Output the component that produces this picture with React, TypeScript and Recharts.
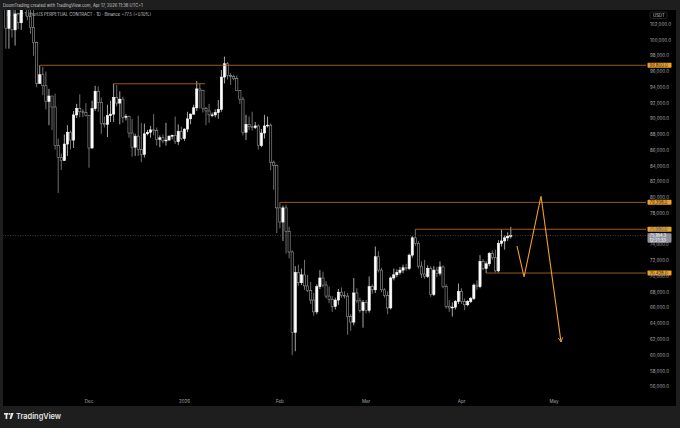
import React from 'react';
import { ComposedChart, Bar, Line, XAxis, YAxis, ReferenceLine } from 'recharts';

// daily candles, [open, high, low, close] in thousands of USDT
// Nov 4 2025 .. Nov 30 2025
const novCandles = [
  [106.5, 106.6, 98.9, 101.5], [101.5, 104.5, 98.9, 103.9], [103.9, 104.2, 100.3, 101.3],
  [101.3, 104.0, 99.3, 103.3], [103.3, 103.4, 101.4, 102.2], [102.2, 105.0, 101.3, 104.7],
  [104.7, 106.6, 104.3, 105.9], [105.9, 107.5, 102.5, 103.0], [103.0, 105.3, 100.8, 101.6],
  [101.6, 104.0, 98.0, 99.7], [99.7, 99.8, 94.0, 94.5], [94.5, 96.8, 94.5, 95.6],
  [95.6, 96.6, 93.0, 94.2], [94.2, 96.0, 91.2, 92.2], [92.2, 93.8, 89.2, 92.9],
  [92.9, 92.9, 88.6, 91.5], [91.5, 93.2, 86.1, 86.6], [86.6, 87.5, 80.6, 85.1],
  [85.1, 85.6, 83.5, 84.7], [84.7, 88.0, 84.7, 86.8], [86.8, 89.2, 85.3, 88.3],
  [88.3, 88.5, 86.1, 87.3], [87.3, 91.0, 86.3, 90.5], [90.5, 91.9, 90.1, 91.3],
  [91.3, 93.1, 90.2, 90.9], [90.9, 91.2, 90.2, 90.8], [90.8, 92.0, 90.3, 90.4],
];
const decCandles = [
  [90.4, 90.4, 83.8, 86.3], [86.3, 92.3, 86.2, 91.3], [91.3, 94.2, 91.0, 93.5],
  [93.5, 94.1, 90.9, 92.1], [92.1, 92.7, 88.1, 89.4], [89.4, 90.3, 88.9, 89.3],
  [89.3, 91.8, 87.7, 90.4], [90.4, 92.3, 89.6, 90.6], [90.6, 94.45, 89.6, 92.7],
  [92.7, 94.3, 91.6, 92.0], [92.0, 93.5, 89.3, 92.5], [92.5, 92.8, 89.5, 90.2],
  [90.2, 90.6, 89.8, 90.3], [90.3, 90.4, 87.6, 88.2], [88.2, 90.0, 85.2, 86.4],
  [86.4, 88.1, 85.3, 87.8], [87.8, 90.4, 85.3, 86.1], [86.1, 89.5, 84.5, 85.5],
  [85.5, 89.4, 85.1, 88.1], [88.1, 88.6, 87.9, 88.3], [88.3, 89.1, 87.6, 88.6],
  [88.6, 90.6, 87.9, 88.5], [88.5, 88.9, 86.6, 87.4], [87.4, 87.9, 86.4, 87.6],
  [87.6, 88.0, 86.9, 87.2], [87.2, 89.5, 86.6, 87.3], [87.3, 87.9, 87.3, 87.8],
  [87.8, 88.0, 87.4, 87.9], [87.9, 90.3, 86.8, 87.1], [87.1, 89.3, 86.7, 88.4],
  [88.4, 89.0, 87.3, 87.5],
];
const janCandles = [
  [87.5, 88.8, 87.2, 88.7], [88.7, 90.9, 88.3, 90.0], [90.0, 90.7, 89.3, 90.6],
  [90.6, 91.8, 90.5, 91.4], [91.4, 94.8, 91.0, 93.8], [93.8, 94.5, 91.3, 93.6],
  [93.6, 93.7, 90.8, 91.3], [91.3, 91.5, 89.2, 91.0], [91.0, 91.9, 89.5, 90.5],
  [90.5, 90.8, 90.2, 90.5], [90.5, 91.2, 90.2, 90.8], [90.8, 92.4, 90.0, 91.2],
  [91.2, 96.2, 90.9, 95.3], [95.3, 97.9, 94.5, 97.0], [97.0, 97.2, 95.0, 95.5],
  [95.5, 95.8, 94.3, 95.4], [95.4, 95.6, 94.9, 95.1], [95.1, 95.5, 93.6, 93.6],
  [93.6, 93.6, 91.9, 92.5], [92.5, 92.8, 87.9, 88.3], [88.3, 90.5, 87.3, 89.3],
  [89.3, 90.3, 88.6, 89.0], [89.0, 90.9, 88.5, 88.9], [88.9, 89.6, 88.7, 89.1],
  [89.1, 89.3, 86.1, 86.6], [86.6, 88.7, 86.4, 88.2], [88.2, 90.5, 87.5, 89.1],
  [89.1, 90.3, 88.9, 89.2], [89.2, 89.4, 83.5, 84.5], [84.5, 84.7, 81.0, 84.1],
  [84.1, 84.2, 75.5, 78.7],
];
const febCandles = [
  [78.7, 79.398, 76.1, 76.9], [76.9, 79.0, 74.5, 78.7], [78.7, 79.1, 72.9, 75.7],
  [75.7, 76.3, 72.3, 73.1], [73.1, 73.3, 60.0, 62.9], [62.9, 71.3, 60.5, 70.5],
  [70.5, 71.5, 68.8, 69.2], [69.2, 71.0, 68.9, 70.2], [70.2, 72.1, 68.3, 68.8],
  [68.8, 70.2, 68.0, 68.2], [68.2, 69.3, 66.5, 67.0], [67.0, 67.9, 65.0, 65.5],
  [65.5, 69.0, 65.2, 68.7], [68.7, 70.8, 68.4, 69.8], [69.8, 70.6, 68.6, 68.9],
  [68.9, 69.4, 67.2, 67.5], [67.5, 68.7, 66.6, 67.1], [67.1, 67.5, 65.5, 66.2],
  [66.2, 67.3, 65.8, 67.0], [67.0, 68.4, 66.4, 68.0], [68.0, 68.6, 67.3, 67.6],
  [67.6, 68.1, 67.2, 67.5], [67.5, 67.9, 62.6, 64.9], [64.9, 65.2, 63.1, 64.2],
  [64.2, 69.8, 63.8, 67.9], [67.9, 68.5, 66.6, 66.9], [66.9, 67.3, 65.4, 65.7],
  [65.7, 67.0, 63.5, 66.7],
];
const marCandles = [
  [66.7, 67.0, 65.3, 65.7], [65.7, 70.0, 65.4, 68.7], [68.7, 69.0, 67.8, 68.3],
  [68.3, 73.8, 67.9, 72.5], [72.5, 73.2, 70.5, 70.8], [70.8, 71.1, 68.0, 68.3],
  [68.3, 68.5, 67.3, 67.6], [67.6, 68.1, 65.2, 66.0], [66.0, 70.0, 65.8, 69.8],
  [69.8, 71.0, 69.5, 70.2], [70.2, 70.9, 69.9, 70.5], [70.5, 71.2, 70.2, 70.8],
  [70.8, 71.5, 70.4, 71.1], [71.1, 71.6, 70.7, 71.0], [71.0, 72.9, 70.8, 72.7],
  [72.7, 75.1, 72.4, 74.9], [74.9, 75.986, 73.9, 74.2], [74.2, 74.5, 71.0, 71.3],
  [71.3, 71.9, 69.8, 70.3], [70.3, 72.1, 69.7, 70.0], [70.0, 71.4, 69.8, 71.0],
  [71.0, 71.3, 67.4, 67.7], [67.7, 71.3, 67.5, 70.8], [70.8, 71.2, 69.9, 70.4],
  [70.4, 71.9, 70.1, 71.2], [71.2, 71.4, 68.5, 68.7], [68.7, 69.0, 65.9, 66.2],
  [66.2, 67.0, 65.5, 66.0], [66.0, 66.7, 64.9, 66.1], [66.1, 67.0, 65.8, 66.8],
  [66.8, 69.1, 66.5, 68.1],
];
const aprCandles = [
  [68.1, 68.5, 66.5, 66.8], [66.8, 67.2, 65.7, 66.4], [66.4, 67.0, 66.2, 66.8],
  [66.8, 67.4, 66.6, 67.2], [67.2, 69.1, 67.0, 68.9], [68.9, 69.5, 68.3, 68.7],
  [68.7, 72.7, 68.5, 71.9], [71.9, 72.2, 70.8, 71.0], [71.0, 71.9, 70.428, 71.6],
  [71.6, 73.1, 71.3, 72.9], [72.9, 73.3, 72.1, 72.4], [72.4, 73.4, 70.5, 70.7],
  [70.7, 74.6, 70.5, 74.2], [74.2, 75.95, 73.8, 74.5], [74.5, 75.2, 73.4, 74.9],
  [74.9, 75.6, 74.5, 75.107], [75.107, 76.3, 74.8, 75.1843],
];

// horizontal levels drawn on the chart
const levelPrices = [96800, 94450, 79398, 75986, 70428];
const levelStartDays = [11, 35, 89, 133, 156];
const levelEndDays = [207.9, 64.7, 207.9, 207.9, 207.9];
const levelTagged = [true, false, true, true, true];

// projected path (day index, price)
const projDays = [166.0, 168.3, 173.8, 180.3];
const projPrices = [73860, 69925, 80207, 61674];

const monthTickDays = [27, 58, 89, 117, 148, 178];
const monthTickLabels = ['Dec', '2026', 'Feb', 'Mar', 'Apr', 'May'];
const priceTicks = [56000, 58000, 60000, 62000, 64000, 66000, 68000, 70000, 72000, 74000, 76000, 78000,
  80000, 82000, 84000, 86000, 88000, 90000, 92000, 94000, 96000, 98000, 100000, 102000];

const allCandles = [...novCandles, ...decCandles, ...janCandles, ...febCandles, ...marCandles, ...aprCandles];
const data = allCandles.map(([o, h, l, c], i) => ({
  t: i, o: o * 1000, h: h * 1000, l: l * 1000, c: c * 1000, range: [l * 1000, h * 1000],
}));
const lastClose = data[data.length - 1].c;
const projection = projDays.map((t, i) => ({ t, v: projPrices[i] }));

const fmt = (n: number) => n.toLocaleString('en-US', { minimumFractionDigits: 1, maximumFractionDigits: 1 });
const FONT = 'Inter, "Noto Sans", Arial, sans-serif';
const ORANGE = '#f0a12a';

const Candle = (props: any) => {
  const { x, y, width, height } = props;
  const p = props.payload || props;
  const { o, h, l, c } = p;
  const cx = x + width / 2;
  const k = h > l ? height / (h - l) : 0;
  const py = (v: number) => y + (h - v) * k;
  const up = c >= o;
  const top = py(Math.max(o, c));
  const bot = py(Math.min(o, c));
  return (
    <g>
      <line x1={cx} x2={cx} y1={y} y2={y + height} stroke={up ? '#d0d0d0' : '#8a8a8a'} strokeWidth={0.8} />
      <rect x={cx - 1.1} y={top} width={2.2} height={Math.max(bot - top, 0.7)}
        fill={up ? '#ffffff' : '#000000'} stroke={up ? '#ffffff' : '#9a9a9a'} strokeWidth={0.6} />
    </g>
  );
};

const PriceTick = (props: any) => (
  <text x={props.x} y={props.y} dy="0.35em" fontSize={4.5} fill="#a9abb0" fontFamily={FONT}>
    {fmt(props.payload.value)}
  </text>
);

const DateTick = (props: any) => {
  const i = monthTickDays.indexOf(props.payload.value);
  return (
    <text x={props.x} y={props.y} dy="0.35em" textAnchor="middle" fontSize={4.5} fill="#a9abb0" fontFamily={FONT}>
      {monthTickLabels[i]}
    </text>
  );
};

const levelTag = (price: number) => (props: any) => {
  const vb = props.viewBox || {};
  const x = (vb.x || 0) + (vb.width || 0);
  const y = vb.y || 0;
  return (
    <g>
      <rect x={x + 1.5} y={y - 2.5} width={24} height={5} rx={0.8} fill={ORANGE} />
      <text x={x + 3.5} y={y} dy="0.35em" fontSize={4.3} fill="#1a1a1a" fontFamily={FONT}>{fmt(price)}</text>
    </g>
  );
};

const lastTag = (props: any) => {
  const vb = props.viewBox || {};
  const x = (vb.x || 0) + (vb.width || 0);
  const y = vb.y || 0;
  return (
    <g>
      <rect x={x + 1.5} y={y - 2.3} width={24} height={9.4} rx={0.8} fill="#8f929b" />
      <text x={x + 3.5} y={y} dy="0.35em" fontSize={4.3} fill="#ffffff" fontFamily={FONT}>{fmt(lastClose)}</text>
      <text x={x + 3.5} y={y + 4.5} dy="0.35em" fontSize={4.3} fill="#ffffff" fontFamily={FONT}>12:21:33</text>
    </g>
  );
};

export default function App() {
  return (
    <div style={{ position: 'fixed', left: 0, top: 0, width: 680, height: 428, background: '#1e1e1e', overflow: 'hidden', fontFamily: FONT }}>
      <svg width={680} height={428} style={{ position: 'absolute', left: 0, top: 0 }}>
        <text x={3} y={5.2} dy="0.35em" fontSize={4.2} fill="#c9cbd0" fontFamily={FONT}>
          DoomTrading created with TradingView.com, Apr 17, 2026 11:38 UTC+1
        </text>
        <g fill="#e6e6e6">
          <rect x={4} y={413} width={4.4} height={1.7} />
          <rect x={5.6} y={413} width={1.7} height={6} />
          <circle cx={9.6} cy={413.9} r={0.9} />
          <polygon points="11,413 13.6,413 11.4,419 9.6,419" />
        </g>
        <text x={16} y={416.6} dy="0.35em" fontSize={7.4} fontWeight={600} fill="#e6e6e6" fontFamily={FONT}>TradingView</text>
      </svg>
      <div style={{ position: 'absolute', left: 3, top: 10, width: 673, height: 396, background: '#000000' }}>
        <svg width={673} height={396} style={{ position: 'absolute', left: 0, top: 0 }}>
          <text x={4} y={5} dy="0.35em" fontSize={4.2} fill="#c9cbd0" fontFamily={FONT}>
            Bitcoin / TetherUS PERPETUAL CONTRACT · 1D · Binance  +77.5 (+0.10%)
          </text>
        </svg>
        <div style={{ position: 'absolute', left: 0, top: 0 }}>
          <ComposedChart width={673} height={396} data={data} margin={{ top: 0, right: 0, bottom: 0, left: 0 }}>
            <defs>
              <marker id="arrowHead" viewBox="0 0 10 10" refX="9" refY="5" markerWidth="5" markerHeight="5" orient="auto">
                <path d="M1,1 L9,5 L1,9" fill="none" stroke={ORANGE} strokeWidth={1.6} />
              </marker>
            </defs>
            <XAxis dataKey="t" type="number" domain={[-0.94, 207.9]} allowDataOverflow ticks={monthTickDays}
              interval={0} axisLine={false} tickLine={false} tickSize={0} tickMargin={5} height={10} tick={<DateTick />} />
            <YAxis orientation="right" type="number" domain={[54820, 103817]} allowDataOverflow ticks={priceTicks}
              interval={0} axisLine={false} tickLine={false} tickSize={0} tickMargin={4} width={30} tick={<PriceTick />} />
            <ReferenceLine y={lastClose} stroke="#6a6a6a" strokeWidth={0.6} strokeDasharray="1 1.5" ifOverflow="visible" />
            {levelPrices.map((p, i) => (
              <ReferenceLine key={p} segment={[{ x: levelStartDays[i], y: p }, { x: levelEndDays[i], y: p }]}
                stroke="#c8701e" strokeWidth={0.8} ifOverflow="visible" />
            ))}
            <Bar dataKey="range" barSize={3} isAnimationActive={false} shape={<Candle />} />
            <Line data={projection} dataKey="v" type="linear" stroke={ORANGE} strokeWidth={1.1} dot={false}
              isAnimationActive={false} markerEnd="url(#arrowHead)" />
            <g>
              <rect x={647} y={2} width={17} height={6.5} rx={1.2} fill="#000" stroke="#3a3a3a" strokeWidth={0.6} />
              <text x={650} y={5.3} dy="0.35em" fontSize={4.3} fill="#c9cbd0" fontFamily={FONT}>USDT</text>
            </g>
            {levelPrices.map((p, i) => levelTagged[i] ? (
              <ReferenceLine key={'tag' + p} y={p} stroke="none" ifOverflow="visible" label={levelTag(p)} />
            ) : null)}
            <ReferenceLine y={lastClose} stroke="none" ifOverflow="visible" label={lastTag} />
          </ComposedChart>
        </div>
      </div>
    </div>
  );
}
